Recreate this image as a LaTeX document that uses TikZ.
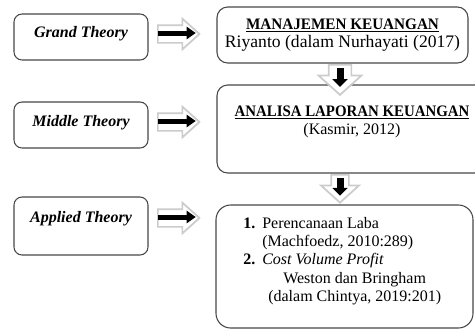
\documentclass[tikz,border=0pt]{standalone}
\usepackage{fontspec}
\usepackage{graphicx}
\setmainfont{Liberation Serif}
\usetikzlibrary{arrows.meta,positioning,shapes.arrows}
\newcommand{\diagfont}{\fontsize{12}{13.8}\selectfont}
\tikzset{
  boxline/.style={draw=black!72, line width=0.8pt, fill=white},
  theorybox/.style={boxline, rounded corners=6pt, minimum width=100.5pt, inner sep=0pt, font=\diagfont\bfseries\itshape},
  refbox/.style={boxline, rounded corners=8pt, inner sep=0pt},
  reftext/.style={inner sep=0pt, font=\diagfont},
  ghostarr/.style={single arrow, draw=gray!40, line width=1.3pt, fill=white, inner xsep=0pt},
  blkarr/.style={-{Triangle[length=6.75pt,width=9pt]}, line width=3.75pt, black},
  blkdown/.style={-{Triangle[length=6pt,width=11.25pt]}, line width=5.25pt, black},
}

\begin{document}
\begin{tikzpicture}[x=0.75pt, y=-0.75pt, font=\diagfont]
  \fill[white] (0,0) rectangle (475,333);
  \useasboundingbox (0,0) rectangle (475,333);

  % left column
  \node[theorybox, text height=17.25pt, text depth=17.25pt, anchor=base] (gt) at (81,37) {Grand Theory};
  \node[theorybox, text height=18pt, text depth=16.5pt, anchor=base] (mt) at (81,126) {Middle Theory};
  \node[theorybox, text height=18.75pt, text depth=24.75pt, anchor=base] (at) at (81,222) {Applied Theory};

  % right column
  \node[refbox, minimum width=188.25pt, minimum height=42pt, align=center, font=\diagfont] (mk) at (342.5,35)
    {\scalebox{0.95}[1]{\underline{\textbf{MANAJEMEN KEUANGAN}}}\\{\fontsize{13.2}{13.8}\selectfont Riyanto (dalam Nurhayati (2017)}};
  \node[refbox, minimum width=208.5pt, minimum height=66pt] (al) at (356,129) {};
  \node[reftext, anchor=base] (alt) at (352,116)
    {\begin{tabular}[t]{@{}c@{}}\scalebox{0.93}[1]{\underline{\textbf{ANALISA LAPORAN KEUANGAN}}}\\(Kasmir, 2012)\end{tabular}};
  \node[refbox, rounded corners=11pt, minimum width=192.75pt, minimum height=92.25pt] (pl) at (344.5,266.5) {};
  \node[reftext, anchor=base west] (plt) at (243,228)
    {\begin{tabular}[t]{@{}l@{\hspace{5.25pt}}l@{}}
      \textbf{1.} & Perencanaan Laba\\
       & (Machfoedz, 2010:289)\\
      \textbf{2.} & \textit{Cost Volume Profit}\\
       & \hspace*{15.75pt}Weston dan Bringham\\
       & \hspace*{4.5pt}(dalam Chintya, 2019:201)
    \end{tabular}};

  % ghost arrows
  \node[ghostarr, inner ysep=6pt, single arrow head extend=4.875pt, single arrow tip angle=84, anchor=tail] (g1) at (157,34) {\hspace*{22.5pt}};
  \node[ghostarr, inner ysep=6pt, single arrow head extend=4.875pt, single arrow tip angle=84, anchor=tail] (g2) at (157,122) {\hspace*{22.5pt}};
  \node[ghostarr, inner ysep=6pt, single arrow head extend=4.875pt, single arrow tip angle=84, anchor=tail] (g3) at (157,218) {\hspace*{22.5pt}};
  \node[ghostarr, inner ysep=6.75pt, single arrow head extend=7.5pt, single arrow tip angle=96, shape border rotate=270, anchor=tail] (g4) at (340,64) {\hspace*{15.75pt}};
  \node[ghostarr, inner ysep=6.75pt, single arrow head extend=7.5pt, single arrow tip angle=96, shape border rotate=270, anchor=tail] (g5) at (340,174) {\hspace*{12pt}};

  % black arrows
  \foreach \g in {g1,g2,g3}
    \draw[blkarr] ([shift={(1,-1)}]\g.tail) -- ([shift={(-5,-1)}]\g.tip);
  \draw[blkdown] ([shift={(0,4)}]g4.tail) -- ([shift={(0,-9)}]g4.tip);
  \draw[blkdown] ([shift={(0,4)}]g5.tail) -- ([shift={(0,-8)}]g5.tip);
\end{tikzpicture}
\end{document}
